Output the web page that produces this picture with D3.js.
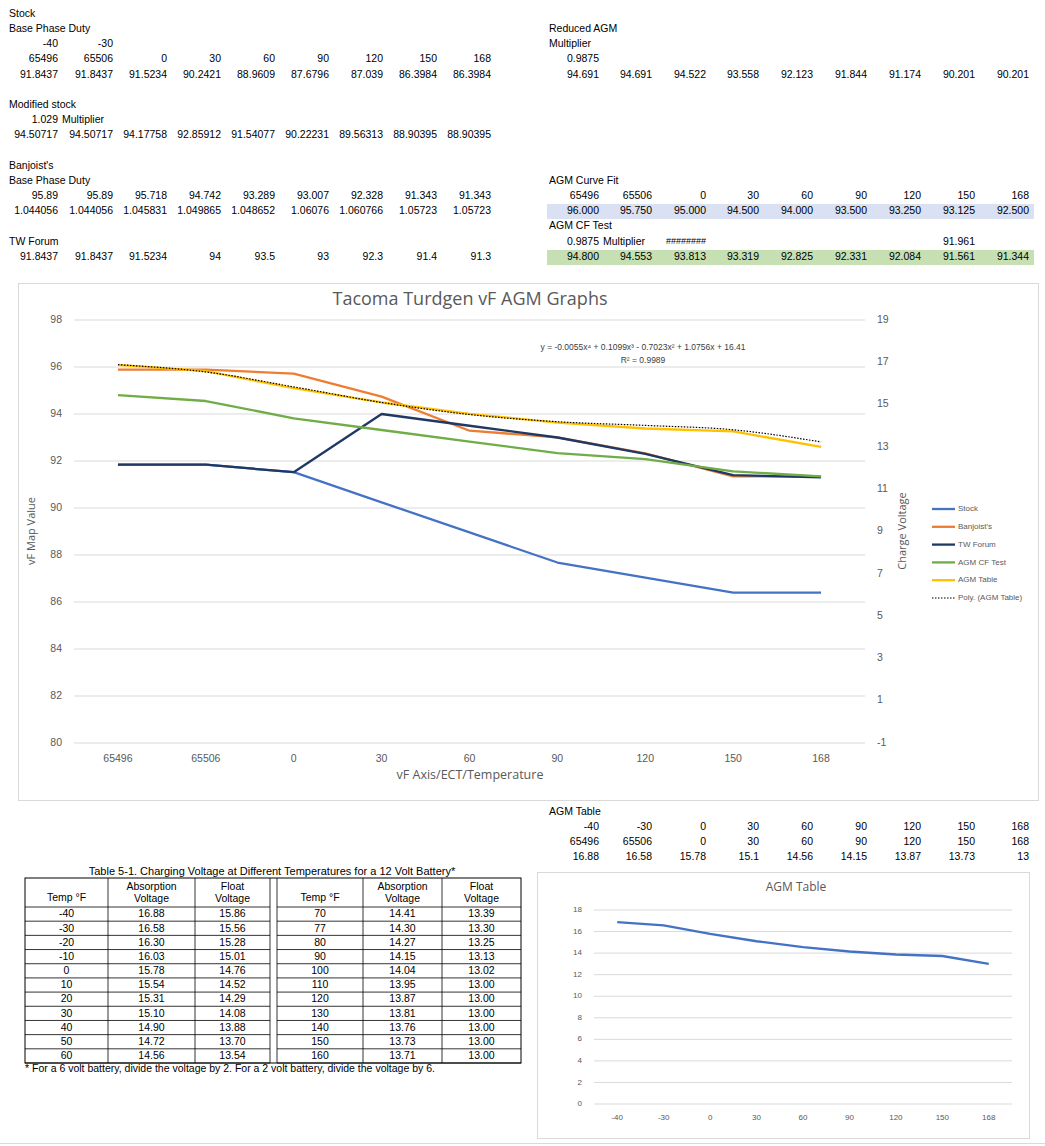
<!DOCTYPE html>
<html><head><meta charset="utf-8">
<script src="https://cdn.jsdelivr.net/npm/d3@7"></script>
<style>body{margin:0;background:#fff}svg{display:block}</style>
</head><body><svg id="s" width="1045" height="1146"></svg>
<script>
// ---------- data ----------
const categories = ["65496","65506","0","30","60","90","120","150","168"];
const tempLabels = ["-40","-30","0","30","60","90","120","150","168"];
const stock = [91.8437,91.8437,91.5234,90.2421,88.9609,87.6796,87.039,86.3984,86.3984];
const modifiedStock = ["94.50717","94.50717","94.17758","92.85912","91.54077","90.22231","89.56313","88.90395","88.90395"];
const banjoist = [95.89,95.89,95.718,94.742,93.289,93.007,92.328,91.343,91.343];
const banjoistRatio = ["1.044056","1.044056","1.045831","1.049865","1.048652","1.06076","1.060766","1.05723","1.05723"];
const twForum = [91.8437,91.8437,91.5234,94,93.5,93,92.3,91.4,91.3];
const reducedAGM = ["94.691","94.691","94.522","93.558","92.123","91.844","91.174","90.201","90.201"];
const agmCurveFit = ["96.000","95.750","95.000","94.500","94.000","93.500","93.250","93.125","92.500"];
const agmCFTest = [94.800,94.553,93.813,93.319,92.825,92.331,92.084,91.561,91.344];
const agmTable = [16.88,16.58,15.78,15.1,14.56,14.15,13.87,13.73,13];
const polyTrend = [16.888,16.543,15.838,15.101,14.531,14.191,14.016,13.809,13.235];
const leftTicks = [80,82,84,86,88,90,92,94,96,98];
const rightTicks = [-1,1,3,5,7,9,11,13,15,17,19];
const smallTicks = [0,2,4,6,8,10,12,14,16,18];
const tableLeft = [["-40","16.88","15.86"],["-30","16.58","15.56"],["-20","16.30","15.28"],["-10","16.03","15.01"],["0","15.78","14.76"],["10","15.54","14.52"],["20","15.31","14.29"],["30","15.10","14.08"],["40","14.90","13.88"],["50","14.72","13.70"],["60","14.56","13.54"]];
const tableRight = [["70","14.41","13.39"],["77","14.30","13.30"],["80","14.27","13.25"],["90","14.15","13.13"],["100","14.04","13.02"],["110","13.95","13.00"],["120","13.87","13.00"],["130","13.81","13.00"],["140","13.76","13.00"],["150","13.73","13.00"],["160","13.71","13.00"]];

const svg = d3.select("#s");
const F = "Liberation Sans, Arial, sans-serif";
function t(x,y,s,o={}){return svg.append("text").attr("x",x).attr("y",y).text(s)
  .attr("font-family",o.f||F).attr("font-size",o.size||10.5).attr("fill",o.fill||"#000")
  .attr("text-anchor",o.a||"start").attr("dominant-baseline","middle").attr("font-weight",o.w||"normal");}
// ---------- spreadsheet cells ----------
const colL = [58,113,167,221,275,329,383,437,491];
const colR = [599,652,706,759,813,867,921,975,1029];
function row(cols,y,vals){vals.forEach((v,i)=>{if(v!==null&&v!=="")t(cols[i],y,v,{a:"end"});});}
svg.append("rect").attr("x",547).attr("y",204).attr("width",487).attr("height",15).attr("fill","#D9E1F2");
svg.append("rect").attr("x",547).attr("y",250).attr("width",487).attr("height",15).attr("fill","#C6E0B4");
t(9,14,"Stock"); t(9,29,"Base Phase Duty");
row(colL,44,["-40","-30"]); row(colL,59,categories); row(colL,75,stock.map(String));
t(9,105,"Modified stock"); t(58,120,"1.029",{a:"end"}); t(62,120,"Multiplier");
row(colL,135,modifiedStock);
t(9,166,"Banjoist's"); t(9,181,"Base Phase Duty");
row(colL,196,banjoist.map(String)); row(colL,211,banjoistRatio);
t(9,242,"TW Forum"); row(colL,257,twForum.map(String));
t(549,29,"Reduced AGM"); t(549,44,"Multiplier"); t(599,59,"0.9875",{a:"end"}); row(colR,75,reducedAGM);
t(549,181,"AGM Curve Fit"); row(colR,196,categories); row(colR,211,agmCurveFit);
t(549,226,"AGM CF Test"); t(599,242,"0.9875",{a:"end"}); t(603,242,"Multiplier"); t(706,242,"########",{a:"end",size:9});
t(975,242,"91.961",{a:"end"}); row(colR,257,agmCFTest.map(v=>v.toFixed(3)));
t(549,812,"AGM Table"); row(colR,827,tempLabels); row(colR,842,categories); row(colR,857,agmTable.map(String));

// ---------- main chart ----------
svg.append("rect").attr("x",18.5).attr("y",283.5).attr("width",1020).attr("height",517).attr("fill","#fff").attr("stroke","#d9d9d9");
const x = d3.scalePoint().domain(categories).range([74,865]).padding(0.5);
const yL = d3.scaleLinear().domain([80,98]).range([743,320]);
const yR = d3.scaleLinear().domain([-1,19]).range([743,320]);
leftTicks.forEach(v=>{svg.append("line").attr("x1",74).attr("x2",865).attr("y1",yL(v)).attr("y2",yL(v)).attr("stroke","#d9d9d9");
  t(62,yL(v),v,{a:"end",fill:"#595959",size:10.5});});
rightTicks.forEach(v=>t(877,yR(v),v,{fill:"#595959",size:10.5}));
categories.forEach(c=>t(x(c),759,c,{a:"middle",fill:"#595959",size:10.5}));
t(470,300,"Tacoma Turdgen vF AGM Graphs",{a:"middle",size:18,fill:"#595959",f:"Open Sans, sans-serif"});
t(470,776,"vF Axis/ECT/Temperature",{a:"middle",size:12.5,fill:"#595959",f:"Open Sans, sans-serif"});
svg.append("text").attr("transform","translate(32,531) rotate(-90)").attr("text-anchor","middle").attr("dominant-baseline","middle")
  .attr("font-family","Open Sans, sans-serif").attr("font-size",11).attr("fill","#595959").text("vF Map Value");
svg.append("text").attr("transform","translate(903,531) rotate(-90)").attr("text-anchor","middle").attr("dominant-baseline","middle")
  .attr("font-family","Open Sans, sans-serif").attr("font-size",11).attr("fill","#595959").text("Charge Voltage");
const series = [
  {name:"Stock",v:stock,c:"#4472C4",s:yL},
  {name:"Banjoist's",v:banjoist,c:"#ED7D31",s:yL},
  {name:"TW Forum",v:twForum,c:"#203864",s:yL},
  {name:"AGM CF Test",v:agmCFTest,c:"#70AD47",s:yL},
  {name:"AGM Table",v:agmTable,c:"#FFC000",s:yR}];
series.forEach(se=>{
  const ln=d3.line().x((d,i)=>x(categories[i])).y(d=>se.s(d));
  svg.append("path").attr("d",ln(se.v)).attr("fill","none").attr("stroke",se.c).attr("stroke-width",2.3).attr("stroke-linejoin","round");
});
svg.append("path").attr("d",d3.line().x((d,i)=>x(categories[i])).y(d=>yR(d)).curve(d3.curveMonotoneX)(polyTrend))
  .attr("fill","none").attr("stroke","#000").attr("stroke-width",1.2).attr("stroke-dasharray","1.5,1.5");
t(643,348,"y = -0.0055x⁴ + 0.1099x³ - 0.7023x² + 1.0756x + 16.41",{a:"middle",size:8.5,fill:"#404040"});
t(643,361,"R² = 0.9989",{a:"middle",size:8.5,fill:"#404040"});
const leg = series.map(s=>({n:s.name,c:s.c})).concat([{n:"Poly. (AGM Table)",c:"#000",d:true}]);
leg.forEach((l,i)=>{const y=509+i*17.8;
  svg.append("line").attr("x1",932).attr("x2",955).attr("y1",y).attr("y2",y).attr("stroke",l.c)
    .attr("stroke-width",l.d?1.2:2.3).attr("stroke-dasharray",l.d?"1.5,1.5":null);
  t(958,y,l.n,{size:8,fill:"#595959"});});

// ---------- Table 5-1 ----------
t(272,872,"Table 5-1. Charging Voltage at Different Temperatures for a 12 Volt Battery*",{a:"middle",size:11});
const cx=[25,108,195,270,277,363,442,521], tTop=878, rh=(1063-907)/11;
svg.append("rect").attr("x",25).attr("y",tTop).attr("width",496).attr("height",1063-tTop).attr("fill","none").attr("stroke","#000");
cx.slice(1,-1).forEach(v=>svg.append("line").attr("x1",v).attr("x2",v).attr("y1",tTop).attr("y2",1063).attr("stroke","#000").attr("stroke-width",0.8));
for(let i=0;i<=11;i++){const y=907+i*rh;
  [[25,270],[277,521]].forEach(([a,b])=>svg.append("line").attr("x1",a).attr("x2",b).attr("y1",y).attr("y2",y).attr("stroke","#000").attr("stroke-width",0.8));}
[0,4].forEach(a=>{
  const m=i=>(cx[a+i]+cx[a+i+1])/2;
  t(m(0),898,"Temp °F",{a:"middle",size:10.5});
  t(m(1),887,"Absorption",{a:"middle",size:10.5}); t(m(1),899,"Voltage",{a:"middle",size:10.5});
  t(m(2),887,"Float",{a:"middle",size:10.5}); t(m(2),899,"Voltage",{a:"middle",size:10.5});
});
[[tableLeft,0],[tableRight,4]].forEach(([tb,a])=>tb.forEach((r,i)=>r.forEach((v,j)=>
  t((cx[a+j]+cx[a+j+1])/2,907+i*rh+rh/2+0.5,v,{a:"middle",size:10.5}))));
t(25,1069,"* For a 6 volt battery, divide the voltage by 2. For a 2 volt battery, divide the voltage by 6.",{size:10.5});

// ---------- small chart ----------
svg.append("rect").attr("x",537.5).attr("y",872.5).attr("width",492).attr("height",266).attr("fill","#fff").attr("stroke","#d9d9d9");
t(796,888,"AGM Table",{a:"middle",size:12,fill:"#595959",f:"Open Sans, sans-serif"});
const xs = d3.scalePoint().domain(tempLabels).range([594,1012]).padding(0.5);
const ys = d3.scaleLinear().domain([0,18]).range([1104,910]);
smallTicks.forEach(v=>{svg.append("line").attr("x1",594).attr("x2",1012).attr("y1",ys(v)).attr("y2",ys(v)).attr("stroke","#d9d9d9");
  t(582,ys(v),v,{a:"end",size:8,fill:"#595959"});});
tempLabels.forEach(c=>t(xs(c),1118,c,{a:"middle",size:8,fill:"#595959"}));
svg.append("path").attr("d",d3.line().x((d,i)=>xs(tempLabels[i])).y(d=>ys(d))(agmTable))
  .attr("fill","none").attr("stroke","#4472C4").attr("stroke-width",2.3);
svg.append("line").attr("x1",0).attr("x2",1045).attr("y1",1143.5).attr("y2",1143.5).attr("stroke","#d9d9d9");
</script></body></html>
